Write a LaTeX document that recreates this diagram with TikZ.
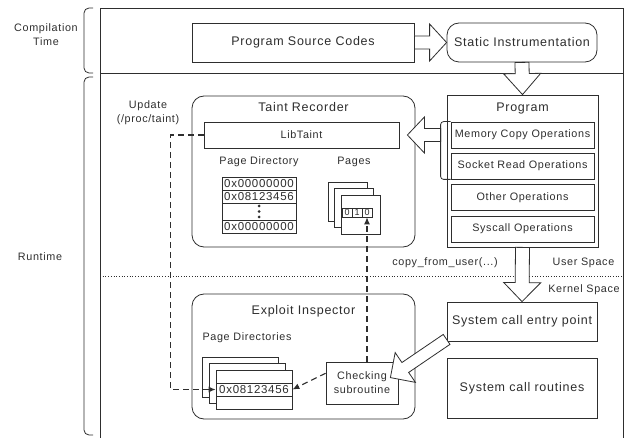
\documentclass[tikz,border=0pt]{standalone}
\usepackage{fontspec}
\setmainfont{Liberation Sans}[LetterSpace=6]
\usetikzlibrary{calc,arrows.meta}
\newcommand\blockarr[5]{%
  \coordinate (ba-h) at ($(#2)!#5!(#1)$);
  \draw[blk] ($(#1)!#3!90:(#2)$) -- ($(ba-h)!#3!90:(#2)$) -- ($(ba-h)!#4!90:(#2)$) -- (#2)
    -- ($(ba-h)!#4!-90:(#2)$) -- ($(ba-h)!#3!-90:(#2)$) -- ($(#1)!#3!-90:(#2)$) -- cycle;
}
\begin{document}
\begin{tikzpicture}[x=1pt,y=-1pt,color=black!82,line width=0.8pt,
  box/.style={draw,rectangle,inner sep=0pt,align=center,fill=white},
  rbox/.style={box,rounded corners=12pt},
  big/.style={font=\fontsize{12.5}{15}\selectfont},
  small/.style={font=\fontsize{10.8}{14}\selectfont},
  hexf/.style={font=\fontsize{11.5}{13}\selectfont},
  bitf/.style={font=\fontsize{9}{9}\selectfont},
  dashlink/.style={dash pattern=on 6pt off 4pt,line width=1.1pt,-{Latex[length=7pt,width=6pt]}},
  blk/.style={draw,fill=white,line width=0.8pt,line join=miter}]
\useasboundingbox (0,0) rectangle (626,438);
% frame
\draw (100,438) -- (100,8) -- (623,8) -- (623,438);
\draw (100,73) -- (623,73);
\draw[dotted,line width=0.7pt] (100,276) -- (623,276);
% braces
\draw[rounded corners=5pt] (93,8) -- (84,8) -- (84,73) -- (93,73);
\draw[rounded corners=5pt] (93,77) -- (84,77) -- (84,435) -- (93,435);
\node[small,align=center] (lct) at (46,34.5) {Compilation\\Time};
\node[small] (lrt) at (40,257) {Runtime};
\node[small,align=center] (lupd) at (148,112.5) {Update\\(/proc/taint)};
\node[small] (lcopy) at (445,263) {copy\_from\_user(...)};
\node[small] (lus) at (583.5,263) {User Space};
\node[small] (lks) at (584,290) {Kernel Space};
% compile-time
\node[box,big,minimum width=222pt,minimum height=39pt] (src) at (303,42.5) {Program Source Codes};
\node[rbox,big,minimum width=150pt,minimum height=39pt] (static) at (522,42.5) {Static Instrumentation};
% program
\node[box,minimum width=151pt,minimum height=152pt] (prog) at (522.5,171) {};
\node[big] (progt) at (522.5,108) {Program};
\node[box,small,minimum width=143pt,minimum height=26pt] (mem) at (522.5,135) {Memory Copy Operations};
\node[box,small,minimum width=143pt,minimum height=26pt] (sock) at (522.5,166) {Socket Read Operations};
\node[box,small,minimum width=143pt,minimum height=26pt] (other) at (522.5,197.5) {Other Operations};
\node[box,small,minimum width=143pt,minimum height=26pt] (sysc) at (522.5,229) {Syscall Operations};
\coordinate (brk) at ($(mem.north west)+(-10,0)$);
\draw[rounded corners=3pt] (mem.north west) -- (brk) |- (sock.south west);
% taint recorder
\node[rbox,minimum width=223pt,minimum height=151pt] (tr) at (303.5,171.5) {};
\node[big] (trt) at (303.5,107) {Taint Recorder};
\node[box,small,minimum width=195pt,minimum height=26pt] (lib) at (301.5,135) {LibTaint};
\node[small] (lpd) at (259,162) {Page Directory};
\node[small] (lpg) at (354,162) {Pages};
\node[box,hexf,minimum width=74pt,minimum height=13pt] (pd1) at (259,183.5) {0x00000000};
\node[box,hexf,minimum width=74pt,minimum height=13pt] (pd2) at (259,196.5) {0x08123456};
\node[box,minimum width=74pt,minimum height=17pt] (pd3) at (259,211.5) {};
\node[box,hexf,minimum width=74pt,minimum height=13pt] (pd4) at (259,226.5) {0x00000000};
\fill (pd3.center) ++(0,-5.5) circle (1.5pt) (pd3.center) circle (1.5pt) (pd3.center) ++(0,5.5) circle (1.5pt);
\node[box,minimum width=39pt,minimum height=39pt] (pg1) at (347.5,201.5) {};
\node[box,minimum width=39pt,minimum height=39pt] (pg2) at (353.5,207.5) {};
\node[box,minimum width=39pt,minimum height=39pt] (pg3) at (360.5,214.5) {};
\node[box,bitf,line width=0.6pt,minimum width=10pt,minimum height=9pt] (bit1) at (347,212.5) {0};
\node[box,bitf,line width=0.6pt,minimum width=10pt,minimum height=9pt] (bit2) at (357,212.5) {1};
\node[box,bitf,line width=0.6pt,minimum width=10pt,minimum height=9pt] (bit3) at (367,212.5) {0};
% kernel side
\node[box,big,minimum width=150pt,minimum height=39pt] (se) at (522,321.5) {System call entry point};
\node[box,big,minimum width=150pt,minimum height=60pt] (sr) at (522,388) {System call routines};
% exploit inspector
\node[rbox,minimum width=223pt,minimum height=125pt] (ei) at (303.5,356.5) {};
\node[big] (eit) at (303.5,311) {Exploit Inspector};
\node[small] (lpds) at (247,338) {Page Directories};
\node[box,minimum width=76pt,minimum height=40pt] (r1) at (240,377) {};
\node[box,minimum width=76pt,minimum height=40pt] (r2) at (247,383) {};
\node[box,minimum width=76pt,minimum height=39pt] (r3) at (254,389.5) {};
\node[box,hexf,minimum width=76pt,minimum height=13pt] (row) at (254,389.5) {0x08123456};
\node[box,small,minimum width=72pt,minimum height=42pt] (chk) at (362,383) {Checking\\subroutine};
% block arrows
\blockarr{src.east}{static.west}{6.5pt}{18.5pt}{17pt}
\blockarr{static.south}{prog.north}{7pt}{18.5pt}{21pt}
\coordinate (a3s) at (brk |- lib.east);
\coordinate (a3e) at ($(lib.east)+(8,0)$);
\blockarr{a3s}{a3e}{6.5pt}{18pt}{17pt}
\blockarr{prog.south}{se.north}{7pt}{18.5pt}{19pt}
\coordinate (a5s) at ($(se.south west)+(0,-2)$);
\coordinate (a5e) at ($(chk.north east)+(-8,16)$);
\blockarr{a5s}{a5e}{6pt}{18pt}{18pt}
% dashed links
\draw[dashlink] (lib.west) -- ++(-33,0) |- (row.west);
\draw[dashlink] (chk.165) -- (row.east);
\draw[dashlink] (bit3.south |- chk.north) -- (bit3.south);
\end{tikzpicture}
\end{document}
